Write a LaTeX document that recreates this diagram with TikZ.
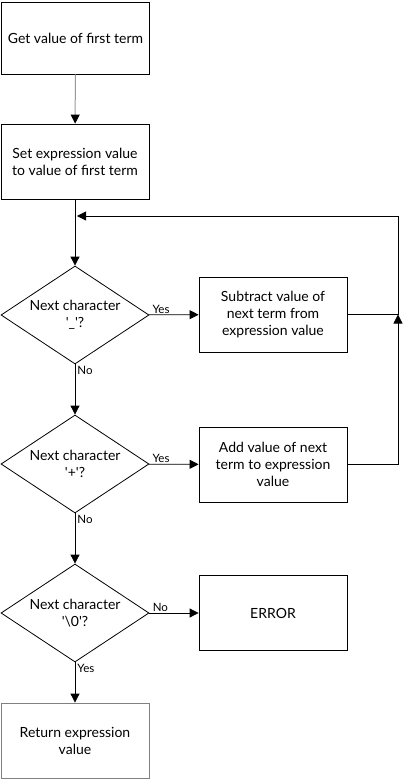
\documentclass[tikz,border=0pt]{standalone}
\usepackage{fontspec}
\setmainfont{Lato}
\usetikzlibrary{shapes.geometric,arrows.meta}
\newcommand{\sq}{\textquotesingle}
\begin{document}
\begin{tikzpicture}[x=1pt,y=-1pt,
  txt/.style={font=\fontsize{14}{17}\selectfont, align=center},
  box/.style={txt, draw, line width=0.8pt, minimum width=148pt, minimum height=75pt, inner sep=0pt},
  dec/.style={txt, draw, line width=0.8pt, diamond, aspect=1.5, inner sep=0pt, minimum width=148pt, minimum height=98pt},
  arr/.style={line width=0.8pt, -{Triangle[length=9pt,width=9pt]}},
  grayarr/.style={line width=1pt, draw=gray!80, -{Triangle[length=9pt,width=9pt,black]}},
  lin/.style={line width=0.8pt},
  lbl/.style={font=\fontsize{11.5}{13}\selectfont, inner sep=1pt}]
\useasboundingbox (0,0) rectangle (403,779);
\node[box, minimum height=72pt] (b1) at (75.5,38) {Get value of first term};
\node[box] (b2) at (75,161.5) {Set expression value\\to value of first term};
\node[dec] (d1) at (75,315) {Next character\\\sq\_\sq?};
\node[box] (b3) at (273,314.5) {Subtract value of\\next term from\\expression value};
\node[dec] (d2) at (75,464) {Next character\\\sq+\sq?};
\node[box] (b4) at (273,464.5) {Add value of next\\term to expression\\value};
\node[dec] (d3) at (75,613) {Next character\\\sq\textbackslash 0\sq?};
\node[box] (b5) at (273,613) {ERROR};
\node[box, draw=gray] (b6) at (75,740.5) {Return expression\\value};
\coordinate (rx) at (398,0);
\coordinate (top) at (398,216);
\coordinate (ent) at (77,216);
\draw[grayarr] (b1) -- (b2);
\draw[arr] (b2) -- (d1);
\draw[arr] (d1) -- node[lbl, anchor=south west, pos=0, xshift=2pt] {Yes} (b3);
\draw[arr] (d1) -- node[lbl, anchor=north west, pos=0, xshift=1pt] {No} (d2);
\draw[arr] (d2) -- node[lbl, anchor=south west, pos=0, xshift=2pt] {Yes} (b4);
\draw[arr] (d2) -- node[lbl, anchor=north west, pos=0, xshift=1pt] {No} (d3);
\draw[arr] (d3) -- node[lbl, anchor=south west, pos=0, xshift=2pt] {No} (b5);
\draw[arr] (d3) -- node[lbl, anchor=north west, pos=0, xshift=1pt] {Yes} (b6);
\draw[lin] (b3.east) -- (b3.east -| rx);
\draw[arr] (b4.east) -| (b3.east -| rx);
\draw[arr] (b3.east -| rx) -- (top) -- (ent);
\end{tikzpicture}
\end{document}
